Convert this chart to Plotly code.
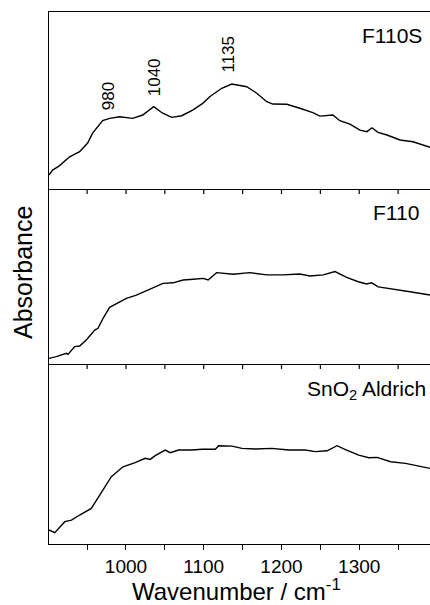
import plotly.graph_objects as go

# ---- data ----
wn_f110s = [901, 905.7, 914.7, 927.5, 940.4, 950.7, 957.1, 966.2, 970, 979, 991.9, 1008.6, 1021.5,
            1035.6, 1047.2, 1058.8, 1071.7, 1085.8, 1098.7, 1107.7, 1123.2, 1136, 1155.3, 1168.2,
            1181.1, 1188.8, 1206.8, 1223.6, 1240.3, 1249.3, 1266.1, 1275.1, 1288, 1300.9, 1309.9,
            1316.3, 1324.1, 1335.7, 1352.4, 1369.1, 1382, 1391]
abs_f110s = [0.079, 0.107, 0.132, 0.182, 0.211, 0.260, 0.316, 0.362, 0.386, 0.399, 0.408, 0.399, 0.418,
             0.465, 0.428, 0.405, 0.414, 0.446, 0.484, 0.521, 0.569, 0.593, 0.578, 0.541,
             0.493, 0.480, 0.479, 0.456, 0.431, 0.412, 0.418, 0.386, 0.367, 0.333, 0.324,
             0.346, 0.320, 0.305, 0.277, 0.267, 0.249, 0.236]

wn_f110 = [901, 910.4, 923.3, 925.4, 934, 940.4, 949, 959.8, 964, 970.5, 979, 991.9, 1000.5, 1013.4,
           1026.3, 1034.8, 1047.7, 1060.6, 1073.5, 1086.4, 1099.3, 1105.7, 1116.5, 1137.9, 1159.3,
           1180.8, 1202.2, 1223.6, 1236.5, 1253.6, 1268.8, 1283.8, 1298.8, 1309.5, 1315.9, 1324.5,
           1343.8, 1365.3, 1391]
abs_f110 = [0.032, 0.042, 0.061, 0.055, 0.099, 0.103, 0.137, 0.194, 0.204, 0.261, 0.324, 0.356, 0.375,
            0.394, 0.419, 0.436, 0.461, 0.464, 0.480, 0.484, 0.489, 0.480, 0.522, 0.513, 0.522,
            0.509, 0.509, 0.514, 0.503, 0.509, 0.528, 0.495, 0.470, 0.457, 0.464, 0.441,
            0.426, 0.413, 0.394]

wn_sno2 = [901, 908.4, 921.3, 929.9, 940.4, 951.1, 955.4, 966.2, 974.7, 981.2, 996.1, 1011.8, 1024.7,
           1031.1, 1037.6, 1050.5, 1056.9, 1067.7, 1084.8, 1097.7, 1114.9, 1119.2, 1136.3, 1149.2,
           1166.3, 1187.8, 1209.2, 1230.6, 1243.5, 1258.6, 1271.5, 1282.2, 1299.4, 1312.3, 1323.1,
           1340.2, 1359.5, 1376.7, 1391]
abs_sno2 = [0.078, 0.063, 0.124, 0.133, 0.161, 0.189, 0.198, 0.272, 0.328, 0.374, 0.429, 0.452, 0.476,
            0.470, 0.491, 0.522, 0.507, 0.522, 0.522, 0.526, 0.526, 0.546, 0.544, 0.531,
            0.528, 0.531, 0.522, 0.522, 0.513, 0.518, 0.546, 0.524, 0.494, 0.479, 0.481,
            0.457, 0.448, 0.433, 0.420]

panel_labels = ["F110S", "F110", "SnO<sub>2</sub> Aldrich"]
peak_positions = [980, 1040, 1135]
peak_label_heights = [0.525, 0.630, 0.763]
tick_values = [950, 1000, 1050, 1100, 1150, 1200, 1250, 1300, 1350]
tick_labels = ["", "1000", "", "1100", "", "1200", "", "1300", ""]

x_range = [901, 1391]

# ---- figure ----
W, H = 430, 605
L, R, T, B = 49, 0, 12, 61
plot_h = H - T - B  # 532
# panel pixel boundaries (top of image = 0)
bounds = [(12, 189), (189, 364), (364, 544)]
TICK_LEN = 5

def dom(top, bot):
    return [(H - B - bot) / plot_h, (H - B - top) / plot_h]

fig = go.Figure()
series = [(wn_f110s, abs_f110s), (wn_f110, abs_f110), (wn_sno2, abs_sno2)]
font_fam = "Arial, Liberation Sans, sans-serif"

layout = dict(
    width=W, height=H,
    margin=dict(l=L, r=R, t=T, b=B),
    paper_bgcolor="white", plot_bgcolor="rgba(0,0,0,0)",
    showlegend=False,
    font=dict(family=font_fam, color="black"),
)

for i, (xs, ys) in enumerate(series):
    k = "" if i == 0 else str(i + 1)
    fig.add_trace(go.Scatter(x=xs, y=ys, mode="lines",
                             line=dict(color="black", width=1.4),
                             xaxis="x" + k, yaxis="y" + k, hoverinfo="skip"))
    top, bot = bounds[i]
    bottom_panel = (i == 2)
    layout["xaxis" + k] = dict(
        domain=[0, 1], range=x_range, anchor="y" + k,
        showline=True, linecolor="black", linewidth=1.4, mirror=(i == 0),
        ticks="outside" if bottom_panel else "", ticklen=TICK_LEN, tickwidth=1.2,
        tickcolor="black",
        tickmode="array", tickvals=tick_values, ticktext=tick_labels,
        showticklabels=bottom_panel,
        tickfont=dict(size=19, family=font_fam, color="black"),
        showgrid=False, zeroline=False,
    )
    layout["yaxis" + k] = dict(
        domain=dom(top, bot), range=[0, 1], anchor="x" + k,
        showline=True, linecolor="black", linewidth=1.4,
        ticks="", showticklabels=False, showgrid=False, zeroline=False,
    )
    if not bottom_panel:
        # tick marks below the upper panels (plotly hides outside ticks here)
        for tv in tick_values:
            fig.add_shape(type="line", xref="x" + k, yref="y%s domain" % k,
                          x0=tv, x1=tv, y0=0, y1=-TICK_LEN / (bot - top),
                          line=dict(color="black", width=1.2), layer="above")

fig.update_layout(**layout)

# panel labels
label_pos = [(424, 35), (421, 212), (428, 390)]
for txt, (px, py) in zip(panel_labels, label_pos):
    fig.add_annotation(text=txt, xref="paper", yref="paper",
                       x=(px - L) / (W - L - R), y=(H - B - py) / plot_h,
                       xanchor="right", yanchor="middle", showarrow=False,
                       font=dict(size=21, family=font_fam, color="black"))

# peak labels (rotated)
for pos, h in zip(peak_positions, peak_label_heights):
    fig.add_annotation(text=str(pos), xref="x", yref="y", x=pos - 3, y=h,
                       textangle=-90, showarrow=False,
                       xanchor="center", yanchor="middle",
                       font=dict(size=17, family=font_fam, color="black"))

# axis titles
fig.add_annotation(text="Wavenumber / cm<sup>-1</sup>", xref="paper", yref="paper",
                   x=(236 - L) / (W - L - R), y=(H - B - 590) / plot_h,
                   xanchor="center", yanchor="middle", showarrow=False,
                   font=dict(size=24, family=font_fam, color="black"))
fig.add_annotation(text="Absorbance", xref="paper", yref="paper",
                   x=(23 - L) / (W - L - R), y=(H - B - 273) / plot_h,
                   xanchor="center", yanchor="middle", textangle=-90, showarrow=False,
                   font=dict(size=25, family=font_fam, color="black"))

fig.write_html("out.html")
